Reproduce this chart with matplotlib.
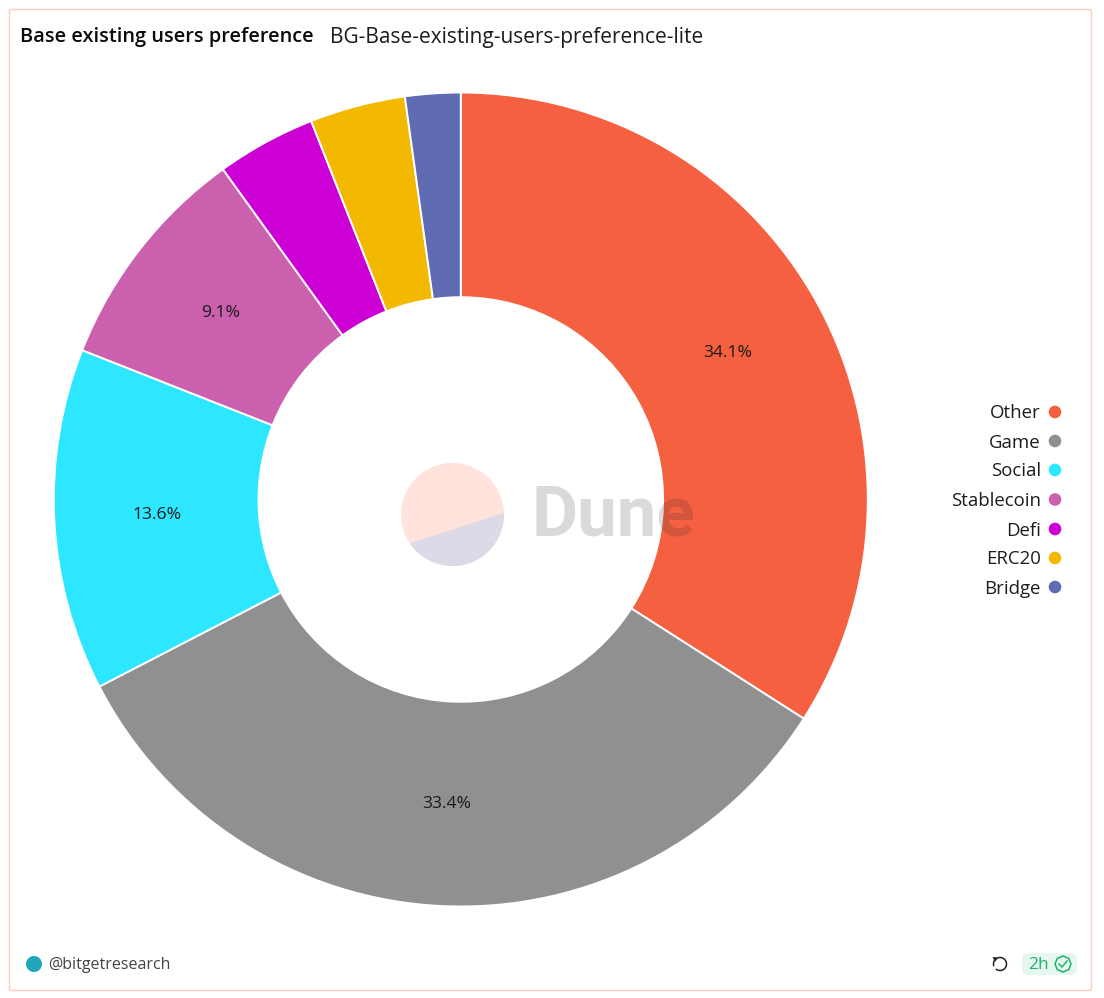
import matplotlib
matplotlib.use("Agg")
import matplotlib.pyplot as plt
from matplotlib.patches import Circle, Polygon, Arc, FancyBboxPatch, RegularPolygon

categories = ["Other", "Game", "Social", "Stablecoin", "Defi", "ERC20", "Bridge"]
shares = [34.1, 33.4, 13.6, 9.1, 3.95, 3.8, 2.2]
colors = ["#F56040", "#909090", "#2DE6FF", "#CB60AE", "#CC00D4", "#F3B800", "#5F6BB2"]
title = "Base existing users preference"
subtitle = "BG-Base-existing-users-preference-lite"
author = "@bitgetresearch"
age = "2h"

W, H = 1104, 998
FONT = "Open Sans"
plt.rcParams["font.family"] = [FONT, "DejaVu Sans"]
fig = plt.figure(figsize=(W / 100, H / 100), dpi=100, facecolor="white")

# donut
cx, cy, R = 460.8, 499.5, 407.0
pie_ax = fig.add_axes([(cx - R) / W, 1 - (cy + R) / H, 2 * R / W, 2 * R / H])
total = sum(shares)
pie_ax.pie(
    shares, colors=colors, startangle=90, counterclock=False, radius=1,
    wedgeprops=dict(width=0.503, edgecolor="white", linewidth=1.4),
    autopct=lambda p: f"{p * total / 100:.1f}%" if p > 5 else "",
    pctdistance=0.748, textprops=dict(fontsize=12.6, color="#1a1a1a"),
)
pie_ax.set_xlim(-1, 1)
pie_ax.set_ylim(-1, 1)
pie_ax.set_aspect("equal")
pie_ax.axis("off")

# overlay in pixel coordinates
ov = fig.add_axes([0, 0, 1, 1], facecolor="none")
ov.set_xlim(0, W)
ov.set_ylim(H, 0)
ov.axis("off")

ov.add_patch(FancyBboxPatch((9.5, 9.5), 1082, 981, boxstyle="round,pad=0,rounding_size=2",
                            fc="none", ec="#FFCBC3", lw=1.0))

ov.text(20, 37, title, fontsize=14.4, fontweight="semibold", color="#0b0b0b", va="center", ha="left")
ov.text(330, 37, subtitle, fontsize=15.0, color="#1c1c1c", va="center", ha="left")

# legend
legend_y = [412, 441, 470, 499.5, 529, 558, 587]
for name, col, y in zip(categories, colors, legend_y):
    ov.text(1041, y + 1.5, name, fontsize=13.4, color="#1c1c1c", ha="right", va="center")
    ov.add_patch(Circle((1055, y), 6.3, fc=col, ec="none"))

# Dune watermark
logo = Circle((452.5, 514.5), 51.5, fc="#FFE3DC", ec="none")
ov.add_patch(logo)
low = Polygon([(395, 548), (510, 511), (510, 575), (395, 575)], fc="#DCDAE6", ec="none")
ov.add_patch(low)
low.set_clip_path(logo)
ov.text(532, 516, "Dune", fontfamily="Roboto", fontweight="bold", fontsize=51, color="#262626",
        alpha=0.17, ha="left", va="center")

# footer
ov.add_patch(Circle((34, 964), 8, fc="#1FA6B8", ec="none"))
ov.text(48.5, 965, author, fontsize=11.5, color="#444444", ha="left", va="center")
ov.add_patch(Arc((1000, 964), 13, 13, theta1=-200, theta2=130, color="#222222", lw=1.1))
ov.add_patch(Polygon([(992.5, 957), (998, 957.5), (995, 962)], closed=True, fc="#222222", ec="none"))
ov.add_patch(FancyBboxPatch((1022, 953), 55, 22, boxstyle="round,pad=0,rounding_size=6",
                            fc="#E6F7EF", ec="none"))
ov.text(1028, 965, age, fontsize=12.5, color="#1FB36B", ha="left", va="center")
ov.add_patch(RegularPolygon((1063, 964), 8, radius=8, fc="none", ec="#1FB36B", lw=1.1))
ov.plot([1059, 1062, 1067], [964, 967, 961], color="#1FB36B", lw=1.1)

fig.savefig("out.png", dpi=100, facecolor="white")
